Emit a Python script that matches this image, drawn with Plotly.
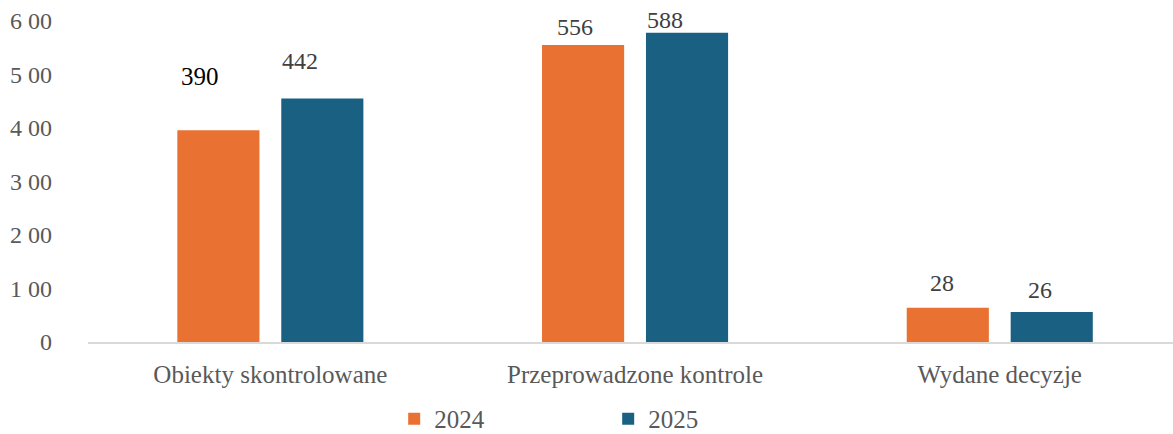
import plotly.graph_objects as go

categories = ["Obiekty skontrolowane", "Przeprowadzone kontrole", "Wydane decyzje"]
series_names = ["2024", "2025"]
values_2024 = [396, 555, 64]
values_2025 = [455, 578, 56]
labels_2024 = ["390", "556", "28"]
labels_2025 = ["442", "588", "26"]
tick_vals = [0, 100, 200, 300, 400, 500, 600]
tick_text = ["0", "1 00", "2 00", "3 00", "4 00", "5 00", "6 00"]

colors = ["#E97132", "#196083"]
FONT = "Liberation Serif, Times New Roman, serif"
GRAY = "#595959"
FS = 24

fig = go.Figure()
for name, vals, col in zip(series_names, [values_2024, values_2025], colors):
    fig.add_trace(go.Bar(x=categories, y=vals, name=name, marker=dict(color=col, line=dict(width=0))))

# data labels (offsets in px as placed in the reference)
label_style = {
    "2024": dict(xshift=[-70, -60, -58], yshift=[54, 18, 25], size=[25, 24, 24], color=["#000000", "#404040", "#404040"]),
    "2025": dict(xshift=[30, 30, 40], yshift=[38, 13, 22], size=[24, 24, 24], color=["#404040", "#404040", "#404040"]),
}
for name, vals, labs in zip(series_names, [values_2024, values_2025], [labels_2024, labels_2025]):
    st = label_style[name]
    for i, (c, v, t) in enumerate(zip(categories, vals, labs)):
        fig.add_annotation(x=c, y=v, text=t, showarrow=False, xshift=st["xshift"][i], yshift=st["yshift"][i],
                           yanchor="middle", font=dict(family=FONT, size=st["size"][i], color=st["color"][i]))

fig.update_layout(
    width=1173, height=434,
    margin=dict(l=88, r=0, t=21, b=92, autoexpand=False),
    paper_bgcolor="white", plot_bgcolor="white",
    barmode="group", bargap=0.43, bargroupgap=0.21,
    font=dict(family=FONT, size=FS, color=GRAY),
    showlegend=True,
    legend=dict(orientation="h", x=0.2822, xanchor="left", y=-0.168, yanchor="top",
                font=dict(family=FONT, size=25, color=GRAY), itemwidth=30,
                traceorder="normal", entrywidthmode="pixels", entrywidth=169),
    xaxis=dict(range=[-0.5, 2.475], showgrid=False, showline=True, linecolor="#D9D9D9", linewidth=2,
               ticks="", ticklabelstandoff=9, automargin=False,
               tickfont=dict(family=FONT, size=25, color=GRAY), fixedrange=True),
    yaxis=dict(range=[0, 600], tickvals=tick_vals, ticktext=tick_text, showgrid=False, zeroline=False,
               showline=False, ticks="", ticklabelstandoff=35, automargin=False, fixedrange=True,
               tickfont=dict(family=FONT, size=FS, color=GRAY)),
)

fig.write_html("out.html", config={"displayModeBar": False},
               post_script="document.body.style.margin='0';document.body.style.overflow='hidden';")
